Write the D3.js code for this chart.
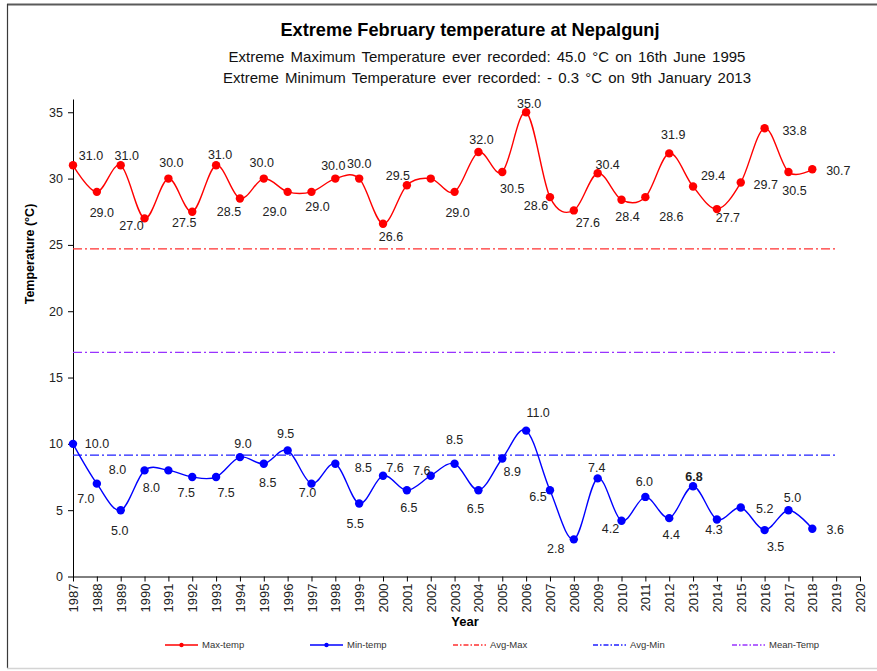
<!DOCTYPE html>
<html>
<head>
<meta charset="utf-8">
<script src="https://cdn.jsdelivr.net/npm/d3@7"></script>
<style>
  html, body { margin: 0; padding: 0; background: #fff; }
  svg { display: block; }
  text { font-family: "Liberation Sans", Arial, sans-serif; }
</style>
</head>
<body>
<svg id="chart" width="877" height="671"></svg>
<script>
// ---------------- DATA ----------------
const years = [1987,1988,1989,1990,1991,1992,1993,1994,1995,1996,1997,1998,1999,2000,2001,2002,2003,2004,2005,2006,2007,2008,2009,2010,2011,2012,2013,2014,2015,2016,2017,2018];
const maxTemp = [31.0,29.0,31.0,27.0,30.0,27.5,31.0,28.5,30.0,29.0,29.0,30.0,30.0,26.6,29.5,30.0,29.0,32.0,30.5,35.0,28.6,27.6,30.4,28.4,28.6,31.9,29.4,27.7,29.7,33.8,30.5,30.7];
const minTemp = [10.0,7.0,5.0,8.0,8.0,7.5,7.5,9.0,8.5,9.5,7.0,8.5,5.5,7.6,6.5,7.6,8.5,6.5,8.9,11.0,6.5,2.8,7.4,4.2,6.0,4.4,6.8,4.3,5.2,3.5,5.0,3.6];
const avgYears = [1987, 2019];
const avgMax = 24.7;
const avgMin = 9.15;
const meanTemp = 16.9;
const xTickLabels = d3.range(1987, 2021);
const yTickLabels = [0,5,10,15,20,25,30,35];
const maxLabelShown = years.map(y => y !== 2002);
const boldMinLabelYears = [2013];

// label offsets in pixels (placement only)
const maxLabelOffset = [[18,-10],[5,21],[6,-10],[-13,7],[3,-16],[-8,11],[4,-11],[-11,13],[-2,-16],[-13,20],[6,15],[-2,-13],[0,-15],[8,13],[-9,-10],[0,0],[3,21],[3,-12],[10,17],[3,-9],[-14,8],[14,12],[10,-9],[6,17],[26,19],[4,-19],[20,-11],[11,9],[25,2],[30,2],[6,19],[26,1]];
const minLabelOffset = [[24,0],[-11,15],[-1,20],[-27,-1],[-17,17],[-6,16],[10,16],[3,-14],[4,19],[-2,-17],[-4,9],[28,4],[-4,20],[12,-8],[2,17],[-9,-5],[0,-24],[-3,18],[10,13],[12,-18],[-12,6],[-18,9],[-1,-11],[-11,8],[-1,-15],[2,16],[1,-10],[-3,10],[24,1],[11,17],[4,-13],[23,1]];

// ---------------- CHART ----------------
const svg = d3.select("#chart");
const x = d3.scaleLinear().domain([1987, 2020]).range([73, 860]);
const y = d3.scaleLinear().domain([0, 36]).range([576.5, 99]);

// frame
svg.append("line").attr("x1",7).attr("x2",877).attr("y1",4.5).attr("y2",4.5).attr("stroke","#5a5a5a").attr("stroke-width",2);
svg.append("line").attr("x1",7.5).attr("x2",7.5).attr("y1",4).attr("y2",668).attr("stroke","#3a3a3a").attr("stroke-width",1.2);
svg.append("line").attr("x1",7).attr("x2",877).attr("y1",668.5).attr("y2",668.5).attr("stroke","#d4d4d4").attr("stroke-width",1.5);

// titles
svg.append("text").attr("x",470).attr("y",36).attr("text-anchor","middle")
  .attr("font-size",18.2).attr("font-weight","bold").attr("fill","#000")
  .text("Extreme February temperature at Nepalgunj");
svg.append("text").attr("x",487).attr("y",62).attr("text-anchor","middle")
  .attr("font-size",15).attr("fill","#111").attr("word-spacing",2)
  .text("Extreme Maximum Temperature ever recorded: 45.0 °C on 16th June 1995");
svg.append("text").attr("x",487).attr("y",83).attr("text-anchor","middle")
  .attr("font-size",15).attr("fill","#111").attr("word-spacing",2)
  .text("Extreme Minimum Temperature ever recorded: - 0.3 °C on 9th January 2013");

// axes
const yAxis = d3.axisLeft(y).tickValues(yTickLabels).tickSize(5).tickSizeOuter(0).tickPadding(5).tickFormat(d3.format("d"));
const gy = svg.append("g").attr("transform","translate(73,0)").call(yAxis);
gy.selectAll("text").attr("font-size",12.5).attr("fill","#222").style("font-family","'Liberation Sans', Arial, sans-serif");
gy.selectAll("line,path").attr("stroke","#000");

const xAxis = d3.axisBottom(x).tickValues(xTickLabels).tickSize(5).tickSizeOuter(0).tickFormat(d3.format("d"));
const gx = svg.append("g").attr("transform","translate(0,576.5)").call(xAxis);
gx.selectAll("line,path").attr("stroke","#000");
gx.selectAll("text").attr("transform","rotate(-90)").attr("text-anchor","end")
  .attr("x",-7).attr("y",0).attr("dy","0.35em").attr("font-size",13).attr("fill","#222")
  .style("font-family","'Liberation Sans', Arial, sans-serif");

// axis titles
svg.append("text").attr("transform","translate(34,254) rotate(-90)").attr("text-anchor","middle")
  .attr("font-size",12.5).attr("font-weight","bold").attr("fill","#000").text("Temperature (°C)");
svg.append("text").attr("x",465).attr("y",626).attr("text-anchor","middle")
  .attr("font-size",13).attr("font-weight","bold").attr("fill","#000").text("Year");

// reference lines
const dashDot = "9,3,2,3";
function refLine(val, color) {
  svg.append("path")
    .attr("d", d3.line().x(d => x(d)).y(() => y(val))(avgYears))
    .attr("stroke", color).attr("stroke-width",1.2).attr("fill","none").attr("stroke-dasharray", dashDot);
}
refLine(avgMax, "#ff3030");
refLine(meanTemp, "#9933ff");
refLine(avgMin, "#2020ff");

// series
const curve = d3.curveCardinal.tension(0);
function series(vals, color) {
  const pts = years.map((yr,i) => [yr, vals[i]]);
  svg.append("path").attr("d", d3.line().x(d => x(d[0])).y(d => y(d[1])).curve(curve)(pts))
    .attr("fill","none").attr("stroke",color).attr("stroke-width",1.4);
  svg.append("g").selectAll("circle").data(pts).join("circle")
    .attr("cx", d => x(d[0])).attr("cy", d => y(d[1])).attr("r",4.2).attr("fill",color);
}
series(maxTemp, "#ff0000");
series(minTemp, "#0000ff");

// data labels
const fmt = d3.format(".1f");
svg.append("g").selectAll("text").data(years.map((yr,i)=>({yr, v:maxTemp[i], off:maxLabelOffset[i], show:maxLabelShown[i]})).filter(d=>d.show))
  .join("text")
  .attr("x", d => x(d.yr) + d.off[0]).attr("y", d => y(d.v) + d.off[1]).attr("dy","0.35em")
  .attr("text-anchor","middle").attr("font-size",12.5).attr("fill","#222").text(d => fmt(d.v));
svg.append("g").selectAll("text").data(years.map((yr,i)=>({yr, v:minTemp[i], off:minLabelOffset[i]})))
  .join("text")
  .attr("x", d => x(d.yr) + d.off[0]).attr("y", d => y(d.v) + d.off[1]).attr("dy","0.35em")
  .attr("text-anchor","middle").attr("font-size",12.5).attr("fill","#222")
  .attr("font-weight", d => boldMinLabelYears.includes(d.yr) ? "bold" : "normal")
  .text(d => fmt(d.v));

// legend
const legendItems = [
  {name:"Max-temp", color:"#ff0000", dash:null, marker:true, x:165},
  {name:"Min-temp", color:"#0000ff", dash:null, marker:true, x:310},
  {name:"Avg-Max", color:"#ff3030", dash:"5,2,1.5,2", marker:false, x:453},
  {name:"Avg-Min", color:"#2020ff", dash:"5,2,1.5,2", marker:false, x:593},
  {name:"Mean-Temp", color:"#9933ff", dash:"5,2,1.5,2", marker:false, x:732}
];
const lg = svg.append("g").attr("transform","translate(0,645)");
legendItems.forEach(it => {
  const g = lg.append("g").attr("transform",`translate(${it.x},0)`);
  g.append("line").attr("x1",0).attr("x2",33).attr("y1",0).attr("y2",0)
    .attr("stroke",it.color).attr("stroke-width",1.3).attr("stroke-dasharray",it.dash);
  if (it.marker) g.append("circle").attr("cx",16.5).attr("cy",0).attr("r",2.2).attr("fill",it.color);
  g.append("text").attr("x",37).attr("y",0).attr("dy","0.35em").attr("font-size",9.5)
    .attr("fill","#333").style("font-family","'Liberation Sans Narrow', 'Arial Narrow', 'Liberation Sans', sans-serif")
    .text(it.name);
});
</script>
</body>
</html>
